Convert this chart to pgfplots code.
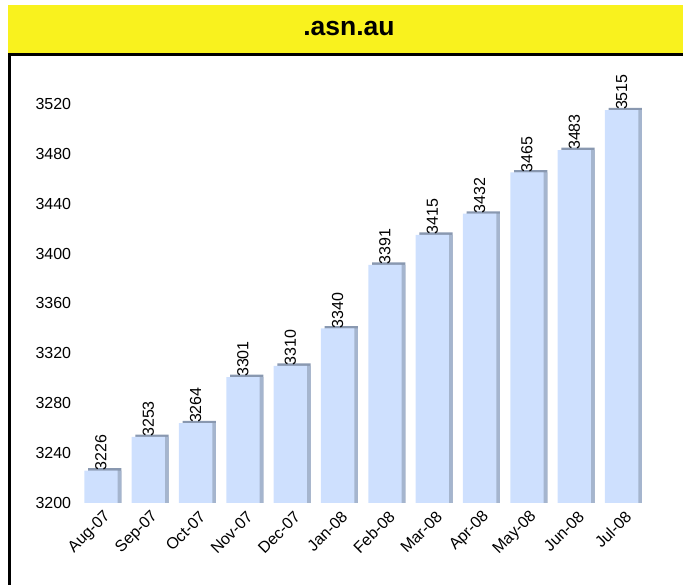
\documentclass[border=0pt]{standalone}
\usepackage{pgfplots}
\pgfplotsset{compat=1.18}
\usepackage{fontspec}
\setmainfont{Liberation Sans}
\definecolor{front}{RGB}{206,224,254}
\definecolor{side}{RGB}{165,181,206}
\definecolor{topc}{RGB}{137,152,176}
\definecolor{ttl}{RGB}{249,242,30}
\begin{document}
\begin{tikzpicture}[x=1pt,y=1pt]
\useasboundingbox (0,0) rectangle (683,584);
\fill[ttl] (8,531) rectangle (683,578.5);
\node[anchor=base,font=\fontsize{26.5}{30}\selectfont\bfseries] at (349,548) {.asn.au};
\draw[line width=3pt] (9.5,-5) -- (9.5,529.5) -- (690,529.5);
\begin{axis}[
  at={(77.3pt,81pt)}, anchor=south west,
  scale only axis, width=568pt, height=449pt,
  xmin=-0.5, xmax=11.5, ymin=3200, ymax=3560,
  axis line style={draw=none}, tick style={draw=none},
  ytick={3200,3240,...,3520},
  xtick={0,...,11},
  xticklabels={Aug-07,Sep-07,Oct-07,Nov-07,Dec-07,Jan-08,Feb-08,Mar-08,Apr-08,May-08,Jun-08,Jul-08},
  /pgf/number format/assume math mode=true,
  /pgf/number format/1000 sep={},
  tick label style={font=\fontsize{16}{19}\selectfont},
  yticklabel style={inner sep=0pt, xshift=-6pt},
  xticklabel style={inner sep=0pt, xshift=7pt, yshift=-11pt, rotate=45, anchor=east},
]
\addplot[ybar, bar width=33.3pt, bar shift=3.7pt, fill=topc, draw=none] coordinates {
(0,3227.9)(1,3254.9)(2,3265.9)(3,3302.9)(4,3311.9)(5,3341.9)(6,3392.9)(7,3416.9)(8,3433.9)(9,3466.9)(10,3484.9)(11,3516.9)};
\addplot[ybar, bar width=33.3pt, bar shift=3.7pt, fill=side, draw=none] coordinates {
(0,3226)(1,3253)(2,3264)(3,3301)(4,3310)(5,3340)(6,3391)(7,3415)(8,3432)(9,3465)(10,3483)(11,3515)};
\addplot[ybar, bar width=33.3pt, bar shift=0pt, fill=front, draw=none,
  nodes near coords, nodes near coords style={rotate=90, anchor=west, inner sep=1.5pt, font=\fontsize{16}{19}\selectfont, xshift=-1.5pt, text=black},
  point meta=explicit symbolic] coordinates {
(0,3226)[3226](1,3253)[3253](2,3264)[3264](3,3301)[3301](4,3310)[3310](5,3340)[3340](6,3391)[3391](7,3415)[3415](8,3432)[3432](9,3465)[3465](10,3483)[3483](11,3515)[3515]};
\end{axis}
\end{tikzpicture}
\end{document}
